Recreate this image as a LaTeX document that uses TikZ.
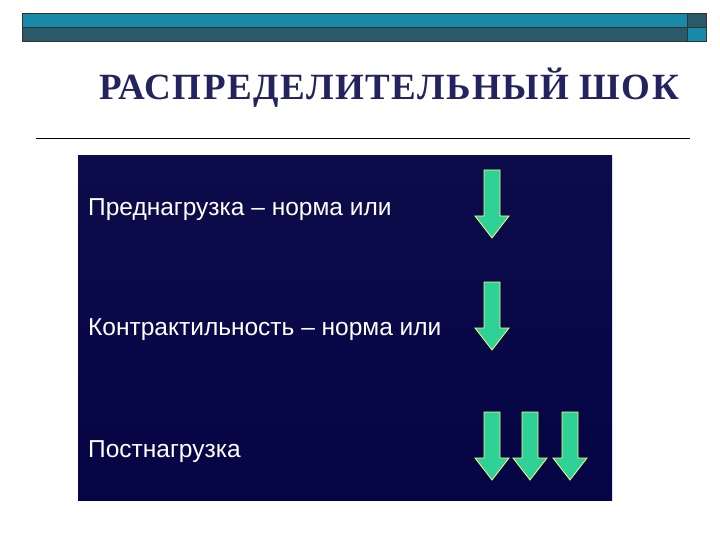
\documentclass[tikz,border=0pt]{standalone}
\usepackage{fontspec}
\setmainfont{Liberation Serif}
\newfontfamily\arialf{Liberation Sans}
\newfontfamily\titlef[LetterSpace=4]{Liberation Serif}
\definecolor{barA}{RGB}{22,138,168}
\definecolor{barB}{RGB}{42,90,106}
\definecolor{arr}{RGB}{46,210,150}
\begin{document}
\begin{tikzpicture}[x=1pt,y=-1pt,
  dn/.style={fill=arr, draw=yellow!50!white, line width=0.8pt},
  lbl/.style={anchor=west, text=white, font=\arialf\fontsize{24.5}{28}\selectfont, inner sep=0}]
\useasboundingbox (0,0) rectangle (720,540);
\fill[white] (0,0) rectangle (720,540);
% top bar
\filldraw[fill=barA, draw=black!80] (22,13) rectangle (687,27);
\filldraw[fill=barB, draw=black!80] (22,27) rectangle (687,41);
\filldraw[fill=barB, draw=black!80] (687,13) rectangle (706,27);
\filldraw[fill=barA, draw=black!80] (687,27) rectangle (706,41);
\node[font=\titlef\bfseries\fontsize{37}{42}\selectfont, text={rgb,255:red,35;green,35;blue,95}] (title) at (389,88) {РАСПРЕДЕЛИТЕЛЬНЫЙ ШОК};
\draw[line width=0.6pt] (36,138) -- (690,138);
\fill[top color={rgb,255:red,12;green,12;blue,75}, bottom color={rgb,255:red,5;green,5;blue,70}] (78,156) rectangle (612,500);
\node[lbl] (a) at (88,210) {Преднагрузка – норма или};
\node[lbl] (b) at (88,330) {Контрактильность – норма или};
\node[lbl] (c) at (88,452) {Постнагрузка};
\foreach \x/\y in {492/170, 492/282, 492/412, 530/412, 570/412}{
  \filldraw[dn] (\x-8,\y) -- (\x+8,\y) -- (\x+8,\y+46) -- (\x+17,\y+46) -- (\x,\y+68) -- (\x-17,\y+46) -- (\x-8,\y+46) -- cycle;
}
\end{tikzpicture}
\end{document}
